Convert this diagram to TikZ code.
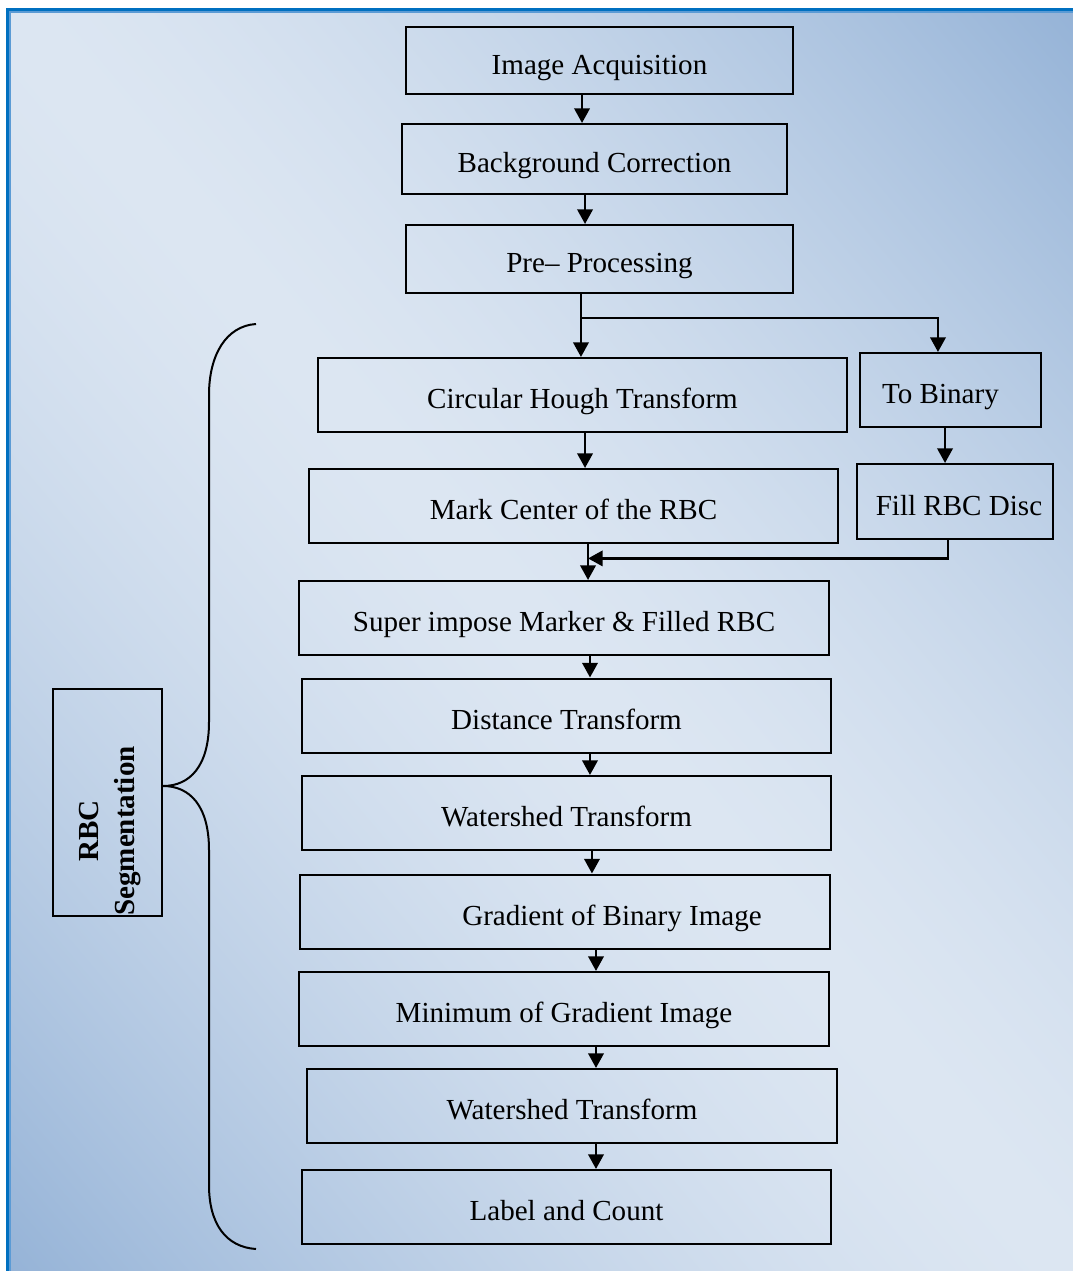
\documentclass[tikz,border=0pt]{standalone}
\usepackage{fontspec}
\setmainfont{Liberation Serif}
\usepackage{xcolor}
\usepackage{tikz}
\usetikzlibrary{arrows.meta,calc}

\definecolor{frameblue}{RGB}{0,112,192}
\definecolor{frameedge}{RGB}{91,155,213}
% light along the main diagonal, darker towards the other two corners
\pgfdeclarefunctionalshading{pagefill}{\pgfpointorigin}{\pgfpoint{100bp}{100bp}}{}{
  add 100 sub abs 50 div dup 1 gt {pop 1} if
  dup sqrt mul
  dup dup -0.106 mul 0.949 add 3 1 roll
  -0.200 mul 0.902 add 3 1 roll
  -0.278 mul 0.863 add 3 1 roll
}

\begin{document}
\begin{tikzpicture}[x=0.75pt,y=0.75pt,yscale=-1,xscale=1,
    font=\fontsize{21.8pt}{26pt}\selectfont,
    stage/.style={draw, line width=1.5pt, inner sep=0pt, text height=26pt, text depth=5.5pt,
      minimum width=397pt, minimum height=55.5pt},
    flow/.style={line width=2pt, -{Triangle[length=11pt,width=11.5pt]}},
    brace/.style={line width=1.5pt}]
    \useasboundingbox (0,0) rectangle (1073,1271);
    \shade [shading=pagefill] (8,10) rectangle (1073,1271);
    \draw [frameedge, line width=1.5pt] (10,1271) -- (10,12) -- (1073,12);
    \draw [frameblue, line width=2.2pt] (7.3,1271) -- (7.3,9.3) -- (1073,9.3);

    % main column
    \node (acq) [stage, minimum width=290.25pt, minimum height=50.25pt] at (599.5,60.5) {Image Acquisition};
    \node (bgc) [stage, minimum width=288.75pt, minimum height=52.5pt] at (594.5,159) {Background Correction};
    \node (pre) [stage, minimum width=290.25pt, minimum height=51pt] at (599.5,259) {Pre-- Processing};
    \node (cht) [stage] at (582.5,395) {Circular Hough Transform};
    \node (mark) [stage] at (573.5,506) {Mark Center of the RBC};
    \node (sup) [stage] at (564,618) {Super impose Marker \& Filled RBC};
    \node (dist) [stage] at (566.5,715.5) {Distance Transform};
    \node (ws1) [stage] at (566.5,813) {Watershed Transform};
    \node (grad) [stage] at (565,911.5) {\hspace*{70.5pt}Gradient of Binary Image};
    \node (mini) [stage] at (564,1009) {Minimum of Gradient Image};
    \node (ws2) [stage] at (572,1106) {Watershed Transform};
    \node (lab) [stage] at (566.5,1207) {Label and Count};

    % side branch
    \node (bin) [stage, minimum width=135.75pt] at (950.5,390) {To Binary\hspace*{15pt}};
    \node (fill) [stage, minimum width=147pt, minimum height=56.25pt] at (955,501.5) {\hspace*{6pt}Fill RBC Disc};

    % segmentation label
    \node (seg) [draw, line width=1.5pt, minimum width=81.75pt, minimum height=170.25pt] at (107.5,802.5) {};
    \node (segtext) [rotate=90, align=center, font=\fontsize{21.8pt}{26.5pt}\selectfont\bfseries] at (110,831) {RBC\\Segmentation};
    \draw [brace] (256,324) .. controls (226,326) and (209,355) .. (209,395) -- (209,722) .. controls (209,766) and (190,786) .. (163,786) .. controls (190,786) and (209,806) .. (209,850) -- (209,1185) .. controls (209,1224) and (226,1247) .. (256,1249);

    % arrows
    \draw [flow] ([xshift=-13.1pt]acq.south) -- ([xshift=-13.1pt]acq.south |- bgc.north);
    \draw [flow] ([xshift=-7.1pt]bgc.south) -- ([xshift=-7.1pt]bgc.south |- pre.north);
    \coordinate (split) at ($(pre.south)!0.38!(cht.north)$);
    \draw [flow] ([xshift=-13.9pt]pre.south) -- ([xshift=-13.9pt]pre.south |- cht.north);
    \draw [flow] ([xshift=-13.9pt]pre.south |- split) -| ([xshift=-9.4pt]bin.north);
    \draw [flow] ([xshift=1.9pt]cht.south) -- ([xshift=1.9pt]cht.south |- mark.north);
    \draw [flow] ([xshift=-4.1pt]bin.south) -- ([xshift=-4.1pt]bin.south |- fill.north);
    \coordinate (merge) at ($(mark.south)!0.4!(sup.north)$);
    \draw [flow] ([xshift=10.9pt]mark.south) -- ([xshift=10.9pt]mark.south |- sup.north);
    \draw [flow] ([xshift=-5.25pt]fill.south) |- ([xshift=10.9pt]mark.south |- merge);
    \draw [flow] ([xshift=19.5pt]sup.south) -- ([xshift=19.5pt]sup.south |- dist.north);
    \draw [flow] ([xshift=17.6pt]dist.south) -- ([xshift=17.6pt]dist.south |- ws1.north);
    \draw [flow] ([xshift=19.1pt]ws1.south) -- ([xshift=19.1pt]ws1.south |- grad.north);
    \draw [flow] ([xshift=23.25pt]grad.south) -- ([xshift=23.25pt]grad.south |- mini.north);
    \draw [flow] ([xshift=24pt]mini.south) -- ([xshift=24pt]mini.south |- ws2.north);
    \draw [flow] ([xshift=18pt]ws2.south) -- ([xshift=18pt]ws2.south |- lab.north);
\end{tikzpicture}
\end{document}
